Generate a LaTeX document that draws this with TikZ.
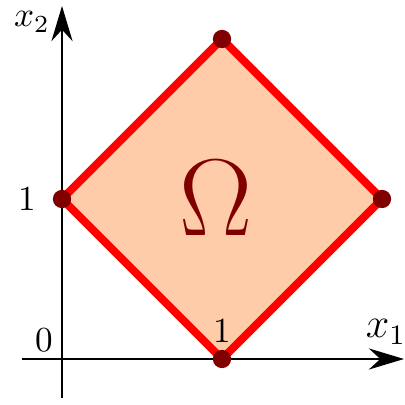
\documentclass[tikz,border=0pt]{standalone}
\usetikzlibrary{arrows.meta}
\definecolor{peach}{RGB}{255,204,170}
\definecolor{darkred}{RGB}{128,0,0}
\tikzset{
  axis/.style={line width=0.6pt,-{Stealth[length=10pt,width=6pt]}},
  edge/.style={line width=2.3pt,red,line join=round},
  vertex/.style={circle,fill=darkred,inner sep=0pt,minimum size=5.2pt},
}
\begin{document}
\begin{tikzpicture}[x=1.6cm,y=1.6cm]
\useasboundingbox (-0.62cm,-0.46cm) rectangle (3.43cm,3.59cm);
\coordinate (xs) at (-0.40cm,0);
\coordinate (xe) at (3.42cm,0);
\coordinate (ys) at (0,-0.39cm);
\coordinate (ye) at (0,3.53cm);
\draw[axis] (xs) -- (xe);
\draw[axis] (ys) -- (ye);
\coordinate (A) at (1,0);
\coordinate (B) at (2,1);
\coordinate (C) at (1,2);
\coordinate (D) at (0,1);
\fill[peach] (A) -- (B) -- (C) -- (D) -- cycle;
\draw[edge] (A) -- (B) -- (C) -- (D) -- cycle;
\node[vertex] (vA) at (A) {};
\node[vertex] (vB) at (B) {};
\node[vertex] (vC) at (C) {};
\node[vertex] (vD) at (D) {};
\node[scale=1.25,transform shape=false] (om) at (1.54cm,1.61cm) {\color{darkred}\Huge$\Omega$};
\node (lx1) at (3.24cm,0.27cm) {\large$x_1$};
\node (lx2) at (-0.30cm,3.37cm) {$x_2$};
\node (l0) at (-0.18cm,0.19cm) {$0$};
\node (l1y) at (-0.35cm,1.6cm) {$1$};
\node (l1x) at (1.6cm,0.28cm) {$1$};
\end{tikzpicture}
\end{document}
